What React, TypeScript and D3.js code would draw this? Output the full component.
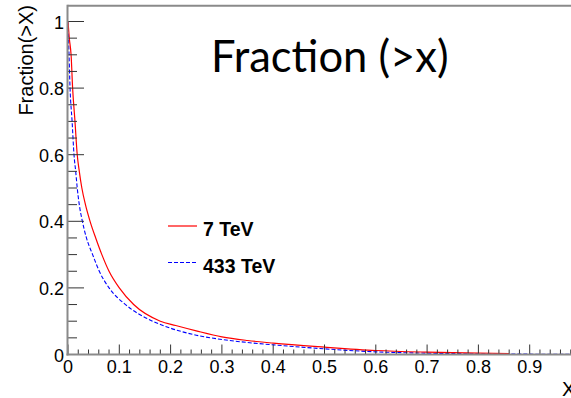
import React from "react";
import * as d3 from "d3";

const redX = [0, 0.0025, 0.006, 0.009, 0.0136, 0.018, 0.022, 0.027, 0.034, 0.043, 0.054, 0.066, 0.08, 0.1, 0.128, 0.18, 0.21, 0.25, 0.3, 0.35, 0.4, 0.5, 0.6, 0.7, 0.8, 0.86];
const redY = [1, 0.95, 0.9, 0.8, 0.7, 0.6, 0.55, 0.5, 0.45, 0.4, 0.35, 0.3, 0.25, 0.2, 0.15, 0.1, 0.087, 0.071, 0.053, 0.042, 0.034, 0.022, 0.012, 0.007, 0.004, 0.003];
const blueX = [0, 0.002, 0.004, 0.008, 0.0117, 0.015, 0.018, 0.022, 0.028, 0.036, 0.048, 0.061, 0.08, 0.112, 0.165, 0.2, 0.25, 0.3, 0.35, 0.4, 0.5, 0.6, 0.7, 0.8, 0.9, 1.0];
const blueY = [1, 0.9, 0.8, 0.7, 0.6, 0.55, 0.5, 0.45, 0.4, 0.35, 0.3, 0.25, 0.2, 0.15, 0.1, 0.079, 0.058, 0.045, 0.036, 0.029, 0.017, 0.008, 0.004, 0.002, 0.001, 0.0005];
const xTickLabels = ["0", "0.1", "0.2", "0.3", "0.4", "0.5", "0.6", "0.7", "0.8", "0.9"];
const yTickLabels = ["0", "0.2", "0.4", "0.6", "0.8", "1"];
const seriesNames = ["7 TeV", "433 TeV"];

const W = 571, H = 398;
const FONT = "'Liberation Sans', Arial, sans-serif";

export default function App() {
  const x = d3.scaleLinear().domain([0, 1]).range([68, 581]);
  const y = d3.scaleLinear().domain([0, 1]).range([354.5, 21.5]);
  const line = d3.line<[number, number]>().x(d => x(d[0])).y(d => y(d[1])).curve(d3.curveMonotoneX);
  const red = redX.map((v, i) => [v, redY[i]] as [number, number]);
  const blue = blueX.map((v, i) => [v, blueY[i]] as [number, number]);
  const xMinor = d3.range(0, 51).map(i => i * 0.02);
  const yMinor = d3.range(0, 21).map(i => i * 0.05);
  const top = 5.7;
  return (
    <svg width={W} height={H} style={{ position: "absolute", left: 0, top: 0, background: "#fff" }}>
      <rect width={W} height={H} fill="#fff" />
      <defs>
        <clipPath id="plot">
          <rect x={68} y={top} width={W - 68} height={354.5 - top} />
        </clipPath>
      </defs>
      <line x1={67.5} x2={W} y1={top} y2={top} stroke="#8a8a8a" strokeWidth={2} />
      <g clipPath="url(#plot)">
        <path d={line(blue) || ""} fill="none" stroke="#0000ff" strokeWidth={1.1} strokeDasharray="4,2" />
        <path d={line(red) || ""} fill="none" stroke="#ff0000" strokeWidth={1.2} />
      </g>
      {xMinor.map((t, i) => (
        <line key={"xt" + i} x1={x(t)} x2={x(t)} y1={354.5} y2={i % 5 === 0 ? 344.5 : 349.5} stroke="#333" strokeWidth={1} />
      ))}
      {yMinor.map((t, i) => (
        <line key={"yt" + i} x1={68} x2={i % 4 === 0 ? 84 : 77} y1={y(t)} y2={y(t)} stroke="#333" strokeWidth={1} />
      ))}
      <line x1={67.5} x2={67.5} y1={top - 1} y2={355.5} stroke="#8a8a8a" strokeWidth={2} />
      <line x1={66.5} x2={W} y1={354.5} y2={354.5} stroke="#8a8a8a" strokeWidth={2} />
      {xTickLabels.map((s, i) => (
        <text key={"xl" + i} x={x(i * 0.1)} y={373} textAnchor="middle" fontFamily={FONT} fontSize={18} fill="#000">{s}</text>
      ))}
      {yTickLabels.map((s, i) => (
        <text key={"yl" + i} x={64} y={y(i * 0.2) + 7} textAnchor="end" fontFamily={FONT} fontSize={18} fill="#000">{s}</text>
      ))}
      <text transform="translate(32.5,5) rotate(-90)" textAnchor="end" fontFamily={FONT} fontSize={20} fill="#000">Fraction(&gt;X)</text>
      <text x={562} y={396} fontFamily={FONT} fontSize={20} fill="#000">X</text>
      <text x={211} y={72} fontFamily="Lato, 'Open Sans', sans-serif" fontSize={43.5} fill="#000">Fraction (&gt;x)</text>
      <line x1={168} x2={197} y1={226} y2={226} stroke="#ff0000" strokeWidth={1.2} />
      <line x1={168} x2={197} y1={262.5} y2={262.5} stroke="#0000ff" strokeWidth={1.1} strokeDasharray="4,2" />
      <text x={203} y={236} fontFamily={FONT} fontWeight="bold" fontSize={19.5} fill="#000">{seriesNames[0]}</text>
      <text x={203} y={273} fontFamily={FONT} fontWeight="bold" fontSize={19.5} fill="#000">{seriesNames[1]}</text>
    </svg>
  );
}
